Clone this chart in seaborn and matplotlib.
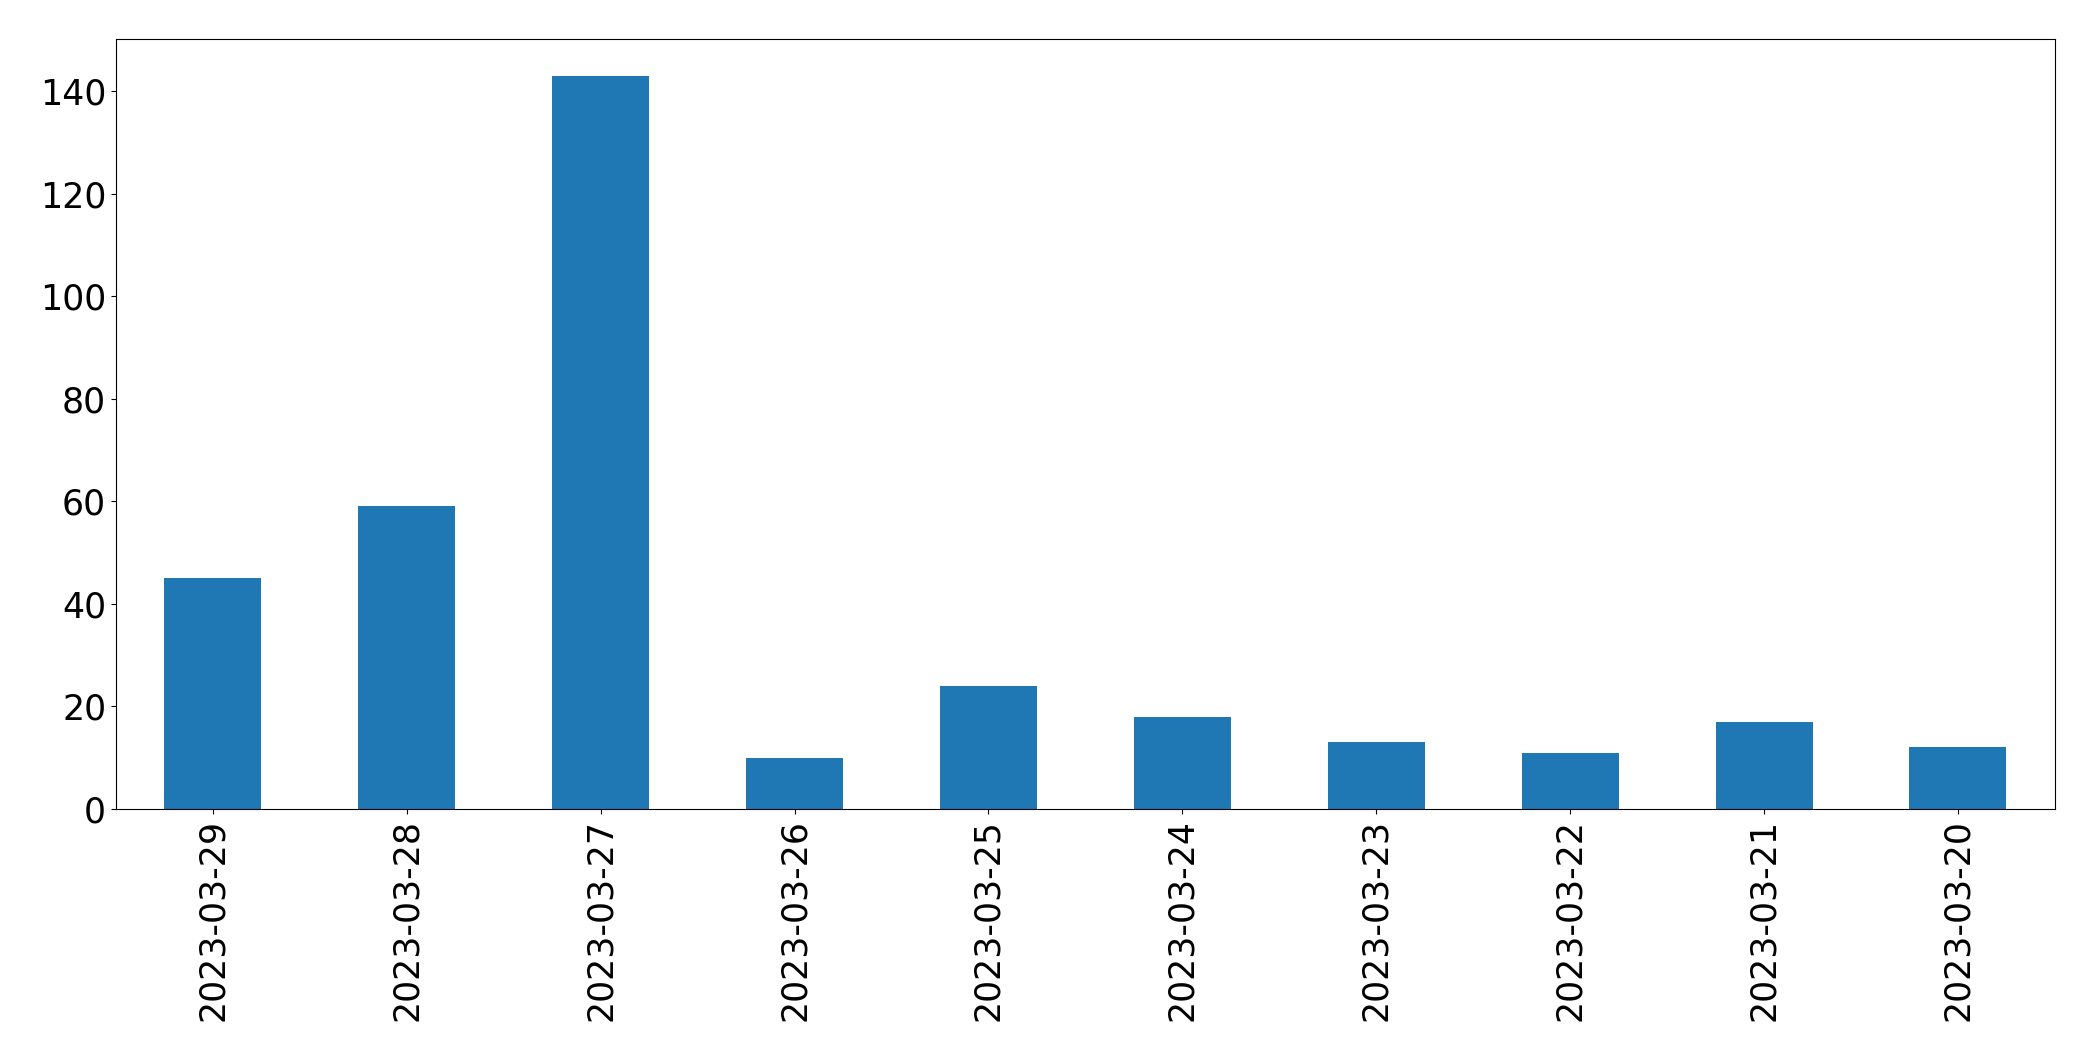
import matplotlib
matplotlib.use("Agg")
import matplotlib.pyplot as plt
import seaborn as sns
import pandas as pd

# Daily counts, newest first
dates = ["2023-03-29", "2023-03-28", "2023-03-27", "2023-03-26", "2023-03-25",
         "2023-03-24", "2023-03-23", "2023-03-22", "2023-03-21", "2023-03-20"]
counts = [45, 59, 143, 10, 24, 18, 13, 11, 17, 12]

df = pd.DataFrame({"date": dates, "count": counts})

plt.rcParams["font.family"] = ["DejaVu Sans"]
fig, ax = plt.subplots(figsize=(20.93, 10.61), dpi=100)
sns.barplot(data=df, x="date", y="count", order=dates, color="#1f77b4",
            saturation=1, width=0.5, ax=ax)

ax.set_xlim(-0.5, len(dates) - 0.5)
ax.set_ylim(0, max(counts) * 1.05)
ax.set_xlabel("")
ax.set_ylabel("")
ax.tick_params(axis="both", labelsize=25)
plt.xticks(rotation=90)

fig.subplots_adjust(left=0.0554, right=0.9818, top=0.9632, bottom=0.2375)
fig.savefig("out.png", dpi=100)
